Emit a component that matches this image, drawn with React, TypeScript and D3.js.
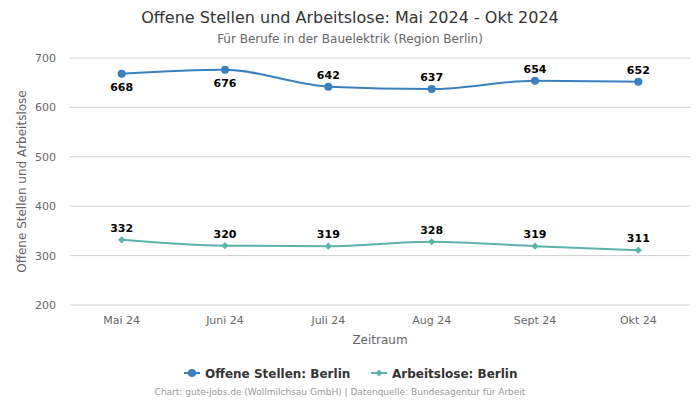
import { useMemo } from "react";
import * as d3 from "d3";

const months = ["Mai 24", "Juni 24", "Juli 24", "Aug 24", "Sept 24", "Okt 24"];
const offeneStellen = [668, 676, 642, 637, 654, 652];
const arbeitslose = [332, 320, 319, 328, 319, 311];
const yTicks = [200, 300, 400, 500, 600, 700];

const FONT = "DejaVu Sans, Verdana, sans-serif";

export default function App() {
  const width = 700;
  const height = 400;
  const margin = { top: 58, right: 10, bottom: 95, left: 70 };

  const x = useMemo(
    () => d3.scaleBand<string>().domain(months).range([margin.left, width - margin.right]).padding(0),
    []
  );
  const y = useMemo(
    () => d3.scaleLinear().domain([200, 700]).range([height - margin.bottom, margin.top]),
    []
  );

  const cx = (m: string) => (x(m) ?? 0) + x.bandwidth() / 2;

  const line = d3
    .line<number>()
    .x((_, i) => cx(months[i]))
    .y((d) => y(d))
    .curve(d3.curveMonotoneX);

  const series = [
    { name: "Offene Stellen: Berlin", values: offeneStellen, color: "#3a80c0", marker: "circle" },
    { name: "Arbeitslose: Berlin", values: arbeitslose, color: "#5bb3ab", marker: "diamond" },
  ];

  // small square diamond
  const diamond = "M0,-3.6L3.6,0L0,3.6L-3.6,0Z";

  return (
    <svg width={width} height={height} style={{ position: "absolute", left: 0, top: 0, background: "#fff" }} fontFamily={FONT}>
      <text x={width / 2} y={23} textAnchor="middle" fontSize={16} fill="#333">
        Offene Stellen und Arbeitslose: Mai 2024 - Okt 2024
      </text>
      <text x={width / 2} y={43} textAnchor="middle" fontSize={12} fill="#666">
        Für Berufe in der Bauelektrik (Region Berlin)
      </text>

      {/* grid + y ticks */}
      {yTicks.map((t) => (
        <g key={t}>
          <line x1={margin.left} x2={width - margin.right} y1={y(t)} y2={y(t)} stroke="#d0d0d0" strokeWidth={1} />
          <text x={56} y={y(t) + 4} textAnchor="end" fontSize={11} fill="#666">
            {t}
          </text>
        </g>
      ))}

      <text
        transform={`translate(26,${(margin.top + height - margin.bottom) / 2}) rotate(-90)`}
        textAnchor="middle"
        fontSize={12}
        fill="#666"
      >
        Offene Stellen und Arbeitslose
      </text>

      {/* x ticks */}
      {months.map((m) => (
        <text key={m} x={cx(m)} y={324} textAnchor="middle" fontSize={11} fill="#666">
          {m}
        </text>
      ))}
      <text x={(margin.left + width - margin.right) / 2} y={344} textAnchor="middle" fontSize={12} fill="#666">
        Zeitraum
      </text>

      {/* series */}
      {series.map((s) => (
        <g key={s.name}>
          <path d={line(s.values) ?? ""} fill="none" stroke={s.color} strokeWidth={2} />
          {s.values.map((v, i) =>
            s.marker === "circle" ? (
              <circle key={i} cx={cx(months[i])} cy={y(v)} r={4} fill={s.color} />
            ) : (
              <path key={i} d={diamond} transform={`translate(${cx(months[i])},${y(v)})`} fill={s.color} />
            )
          )}
          {s.values.map((v, i) => {
            const py = y(v);
            const below = py - margin.top < 20;
            return (
              <text
                key={"l" + i}
                x={cx(months[i])}
                y={below ? py + 17 : py - 8}
                textAnchor="middle"
                fontSize={11}
                fontWeight="bold"
                fill="#000"
              >
                {v}
              </text>
            );
          })}
        </g>
      ))}

      {/* legend */}
      <g>
        <line x1={184} x2={200} y1={373} y2={373} stroke={series[0].color} strokeWidth={2} />
        <circle cx={192} cy={373} r={4} fill={series[0].color} />
        <text x={205} y={377.5} fontSize={12} fontWeight="bold" fill="#333">
          {series[0].name}
        </text>
        <line x1={371} x2={387} y1={373} y2={373} stroke={series[1].color} strokeWidth={2} />
        <path d={diamond} transform="translate(379,373)" fill={series[1].color} />
        <text x={392} y={377.5} fontSize={12} fontWeight="bold" fill="#333">
          {series[1].name}
        </text>
      </g>

      <text x={340} y={395} textAnchor="middle" fontSize={9} fill="#999">
        Chart: gute-jobs.de (Wollmilchsau GmbH) | Datenquelle: Bundesagentur für Arbeit
      </text>
    </svg>
  );
}
